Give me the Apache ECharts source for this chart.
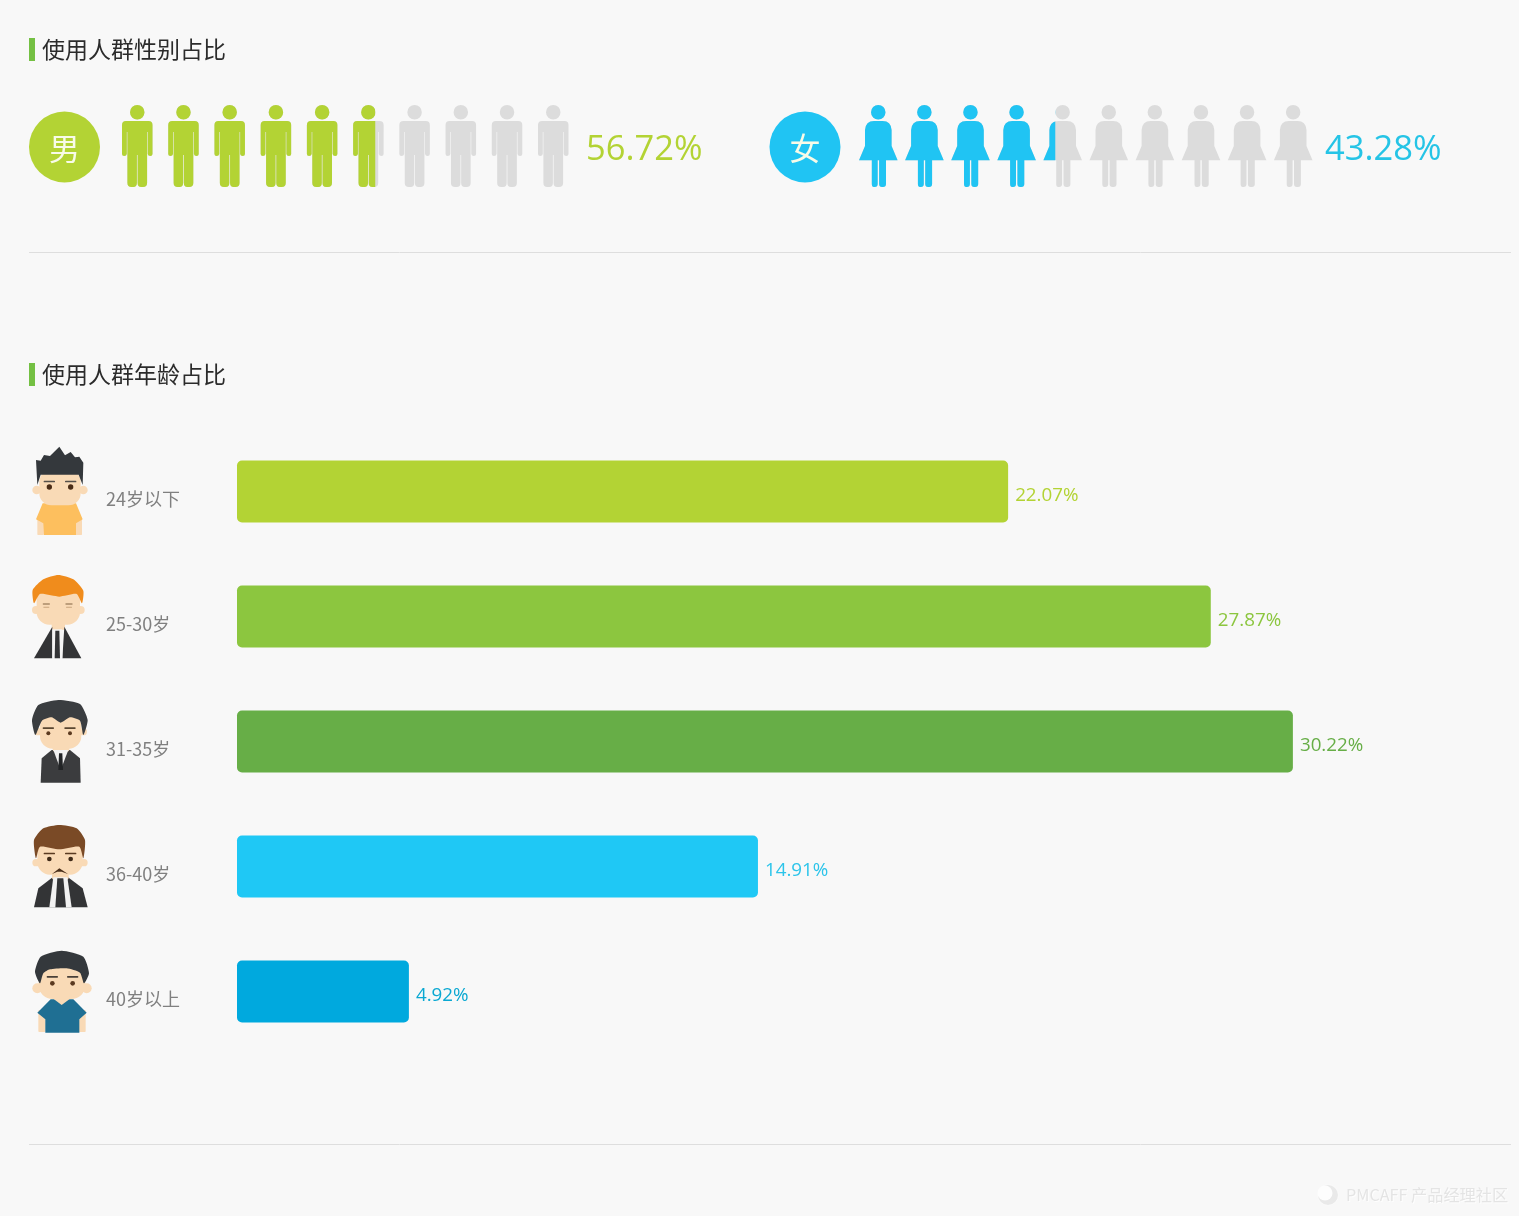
<!DOCTYPE html>
<html>
<head>
<meta charset="utf-8">
<title>使用人群</title>
<script src="https://cdn.jsdelivr.net/npm/echarts@6/dist/echarts.min.js"></script>
<style>
html, body { margin: 0; padding: 0; background: #f8f8f8; }
#main { width: 1519px; height: 1216px; }
</style>
</head>
<body>
<div id="main"></div>
<script>
var titles = ['使用人群性别占比', '使用人群年龄占比'];
var genderNames = ['男', '女'];
var genderValues = [56.72, 43.28];
var genderColors = ['#b3d334', '#20c4f3'];
var genderTextColors = ['#b3d334', '#25c4e6'];
var ageNames = ['24岁以下', '25-30岁', '31-35岁', '36-40岁', '40岁以上'];
var ageValues = [22.07, 27.87, 30.22, 14.91, 4.92];
var ageColors = ['#b3d334', '#8cc63f', '#67ae47', '#1fc8f5', '#00a9de'];
var ageTextColors = ['#b3d334', '#8cc63f', '#67ae47', '#2cc4ea', '#0aa8d2'];

var font = '"Noto Sans CJK SC", "Noto Sans", sans-serif';
var latinFont = '"Open Sans", "Noto Sans", sans-serif';
var manPath = 'path://M8 7.25a7.25 7.25 0 1 0 14.5 0a7.25 7.25 0 1 0 -14.5 0zM4 16H26.5Q30.5 16 30.5 20V49Q30.5 51 28.3 51Q26 51 25.7 49V27H25.1V78Q25.1 82 21 82H19.2Q15.6 82 15.6 78V50H14.9V78Q14.9 82 11.3 82H9.5Q5.4 82 5.4 78V27H4.8V49Q4.5 51 2.2 51Q0 51 0 49V20Q0 16 4 16Z';
var womanPath = 'path://M12 7.25a7.25 7.25 0 1 0 14.5 0a7.25 7.25 0 1 0 -14.5 0zM15 16H23.6Q32 16 32.6 25V41L38.6 55.3H27V79Q27 82 24 82H23Q20.1 82 20.1 79V55.3H18.7V79Q18.7 82 15.7 82H14.9Q12.8 82 12.8 79V55.3H0L6 41V25Q6.6 16 15 16Z';

// avatars are drawn in 3x crop units, the group scales them back
function circle(cx, cy, r, fill) {
	return { type: 'circle', shape: { cx: cx, cy: cy, r: r }, style: { fill: fill } };
}
function box(x, y, w, h, r, fill) {
	return { type: 'rect', shape: { x: x, y: y, width: w, height: h, r: r }, style: { fill: fill } };
}
function poly(points, fill, smooth) {
	return { type: 'polygon', shape: { points: points, smooth: smooth || 0 }, style: { fill: fill } };
}
function avatar(x, y, children) {
	return { type: 'group', x: x, y: y, scaleX: 1 / 3, scaleY: 1 / 3, children: children };
}
function eyes(lx, rx, y, r, color) {
	return [circle(lx, y, r, color), circle(rx, y, r, color)];
}
function brows(lx, rx, y, color) {
	return [box(lx - 17, y, 34, 5, 2, color), box(rx - 17, y, 34, 5, 2, color)];
}
var skin = '#f9dab6';

var avatars = [
	avatar(20, 440, [
		box(52, 235, 20, 50, 2, skin), box(166, 235, 20, 50, 2, skin),
		poly([[68, 190], [168, 190], [188, 238], [168, 250], [168, 285], [72, 285], [70, 250], [48, 238]], '#fdbf5e'),
		circle(50, 150, 13, skin), circle(190, 150, 13, skin),
		box(58, 90, 124, 106, 36, skin),
		poly([[52, 135], [48, 60], [62, 62], [72, 45], [90, 48], [118, 20], [135, 46], [152, 36], [165, 52], [178, 50], [190, 68], [188, 135], [176, 104], [62, 104]], '#34383c')
	].concat(eyes(88, 152, 141, 8, '#4a2c16'), brows(88, 152, 122, '#55504a'))),
	avatar(20, 440, [
		circle(48, 510, 12, skin), circle(182, 510, 12, skin),
		box(50, 440, 130, 114, 38, skin),
		box(95, 540, 40, 30, 6, skin),
		poly([[97, 560], [97, 655], [42, 655]], '#333436'),
		poly([[133, 560], [184, 655], [127, 655]], '#333436'),
		box(97, 568, 30, 88, 0, '#f4f4f4'),
		poly([[106, 572], [118, 572], [120, 655], [104, 655]], '#333436'),
		poly([[42, 490], [38, 450], [70, 418], [115, 405], [160, 418], [190, 452], [186, 490], [170, 462], [118, 470], [60, 462]], '#f08c1c', 0.2),
		box(68, 490, 22, 4, 2, '#a98a68'), box(136, 490, 22, 4, 2, '#a98a68'),
		box(70, 500, 18, 3, 1, '#c9a57e'), box(138, 500, 18, 3, 1, '#c9a57e')
	]),
	avatar(20, 690, [
		circle(54, 125, 11, skin), circle(190, 125, 11, skin),
		poly([[62, 278], [65, 205], [95, 180], [150, 180], [180, 205], [182, 278]], '#3b3c3e'),
		box(98, 150, 50, 35, 8, skin),
		poly([[100, 180], [145, 180], [122, 240]], '#f2f2f2'),
		poly([[117, 190], [127, 190], [129, 240], [115, 240]], '#222426'),
		box(60, 70, 124, 106, 38, skin),
		poly([[46, 135], [36, 90], [55, 45], [115, 30], [180, 42], [203, 90], [190, 135], [180, 92], [150, 82], [122, 98], [95, 82], [66, 92]], '#3a3d40', 0.2)
	].concat(eyes(85, 150, 130, 6, '#5b3a20'), brows(85, 150, 112, '#5a4630'))),
	avatar(20, 690, [
		circle(48, 518, 11, skin), circle(192, 518, 11, skin),
		poly([[42, 652], [55, 595], [100, 560], [142, 560], [188, 595], [203, 652]], '#333436'),
		box(96, 540, 50, 30, 8, skin),
		poly([[100, 562], [142, 562], [155, 652], [88, 652]], '#f2f2f2'),
		poly([[112, 565], [130, 565], [138, 652], [106, 652]], '#333436'),
		box(52, 440, 136, 114, 38, skin),
		poly([[48, 505], [42, 450], [70, 415], [118, 405], [170, 415], [195, 450], [190, 505], [178, 470], [118, 478], [60, 470]], '#7a4a26', 0.2),
		poly([[96, 552], [118, 535], [144, 552], [125, 545], [112, 545]], '#4a2f1a')
	].concat(eyes(88, 152, 507, 7, '#3f2a18'), brows(88, 152, 488, '#5a3a20'))),
	avatar(20, 690, [
		box(55, 960, 22, 66, 3, skin), box(175, 960, 22, 66, 3, skin),
		poly([[52, 968], [92, 928], [160, 928], [200, 968], [178, 988], [178, 1028], [76, 1028], [76, 988]], '#1f6f93'),
		poly([[98, 925], [152, 925], [125, 945]], skin),
		circle(52, 895, 15, skin), circle(200, 895, 15, skin),
		box(56, 815, 140, 112, 42, skin),
		poly([[60, 880], [45, 845], [62, 800], [125, 782], [190, 800], [207, 850], [192, 880], [180, 848], [140, 835], [90, 838], [70, 850]], '#34383c', 0.2)
	].concat(eyes(97, 158, 880, 7, '#5b3a20'), brows(97, 158, 858, '#4a4038')))
];

function titleMark(y) {
	return { type: 'rect', shape: { x: 29, y: y, width: 6, height: 23 }, style: { fill: '#74c043' } };
}
function divider(y) {
	return { type: 'line', shape: { x1: 29, y1: y, x2: 1511, y2: y }, style: { stroke: '#dedede', lineWidth: 1 } };
}
function badge(cx, i) {
	return [
		{ type: 'circle', shape: { cx: cx, cy: 147, r: 35.5 }, style: { fill: genderColors[i] } },
		{ type: 'text', x: cx, y: 148, style: { text: genderNames[i], fill: '#f8fbe8', font: '31px ' + font, textAlign: 'center', textVerticalAlign: 'middle' } }
	];
}
function percentText(x, i) {
	return { type: 'text', x: x, y: 150, style: { text: genderValues[i] + '%', fill: genderTextColors[i], font: '400 34.5px ' + latinFont, textAlign: 'left', textVerticalAlign: 'middle' } };
}
function peopleSeries(i, symbol, size, margin) {
	return [{
		type: 'pictorialBar', xAxisIndex: i, yAxisIndex: i, silent: true,
		symbol: symbol, symbolSize: size, symbolRepeat: 10, symbolMargin: margin,
		symbolBoundingData: 100, itemStyle: { color: '#dcdcdc' },
		data: [100], z: 2
	}, {
		type: 'pictorialBar', xAxisIndex: i, yAxisIndex: i, silent: true,
		symbol: symbol, symbolSize: size, symbolRepeat: 10, symbolMargin: margin,
		symbolClip: true, symbolBoundingData: 100, itemStyle: { color: genderColors[i] },
		data: [genderValues[i]], z: 3
	}];
}
function hiddenX(i) {
	return { type: 'value', gridIndex: i, min: 0, max: i == 2 ? 35 : 100, show: false };
}
function hiddenY(i, names) {
	return { type: 'category', gridIndex: i, data: names, show: false };
}

var option = {
	backgroundColor: '#f8f8f8',
	animation: false,
	title: [
		{ text: titles[0], left: 42, top: 38, padding: 0, textStyle: { fontFamily: font, fontSize: 23, fontWeight: 400, color: '#2b2b2b' } },
		{ text: titles[1], left: 42, top: 363, padding: 0, textStyle: { fontFamily: font, fontSize: 23, fontWeight: 400, color: '#2b2b2b' } }
	],
	grid: [
		{ left: 122, top: 105, width: 446.5, height: 82 },
		{ left: 859, top: 105, width: 453.5, height: 82 },
		{ left: 237, top: 429, width: 1222.9, height: 625 }
	],
	xAxis: [hiddenX(0), hiddenX(1), hiddenX(2)],
	yAxis: [
		hiddenY(0, [genderNames[0]]),
		hiddenY(1, [genderNames[1]]),
		{
			type: 'category', gridIndex: 2, inverse: true, data: ageNames,
			axisLine: { show: false }, axisTick: { show: false },
			axisLabel: {
				margin: 131, align: 'left', verticalAlign: 'top', lineHeight: 15,
				color: '#808080', fontSize: 18, fontFamily: font
			}
		}
	],
	series: peopleSeries(0, manPath, [30.5, 82], 7.85)
		.concat(peopleSeries(1, womanPath, [38.6, 82], 3.8))
		.concat([{
			type: 'bar', xAxisIndex: 2, yAxisIndex: 2, barWidth: 62, silent: true,
			data: ageValues.map(function (v, i) {
				return {
					value: v,
					itemStyle: { color: ageColors[i], borderRadius: 5 },
					label: { color: ageTextColors[i] }
				};
			}),
			label: {
				show: true, position: 'right', distance: 7, fontSize: 18.8, fontFamily: latinFont,
				formatter: '{c}%', offset: [0, 4]
			}
		}]),
	graphic: [
		titleMark(38), titleMark(363), divider(252.5), divider(1144.5)
	].concat(badge(64.5, 0), badge(805, 1), [percentText(586, 0), percentText(1325, 1)], avatars, [
		{ type: 'circle', shape: { cx: 1328, cy: 1195, r: 10 }, style: { fill: '#e9e9e9', shadowColor: '#ffffff', shadowBlur: 2 } },
		{ type: 'circle', shape: { cx: 1325, cy: 1193, r: 7.5 }, style: { fill: '#fdfdfd' } },
		{ type: 'text', x: 1346, y: 1195, style: { text: 'PMCAFF 产品经理社区', fill: '#e4e4e4', font: '16.2px ' + font, textAlign: 'left', textVerticalAlign: 'middle', textShadowColor: '#ffffff', textShadowBlur: 1, textShadowOffsetX: 1, textShadowOffsetY: 1 } }
	])
};

var chart = echarts.init(document.getElementById('main'));
chart.setOption(option);
</script>
</body>
</html>
